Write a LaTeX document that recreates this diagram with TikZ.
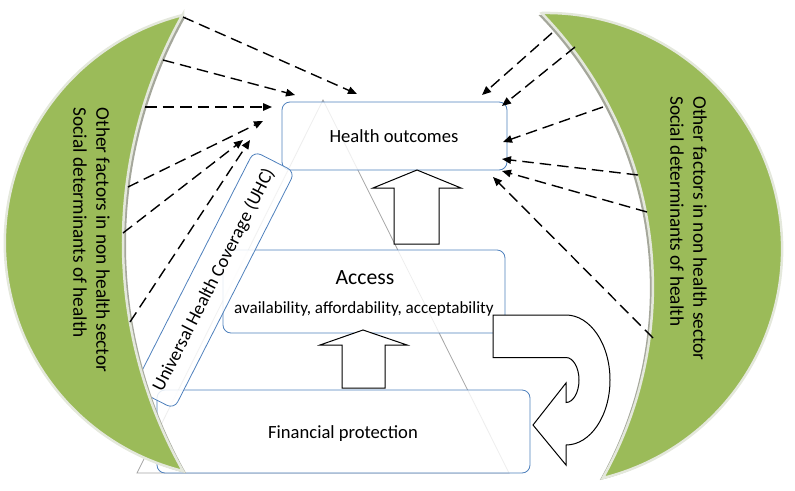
\documentclass[tikz,border=0pt]{standalone}
\usepackage{fontspec}
\setmainfont{Carlito}
\usetikzlibrary{arrows.meta}
\definecolor{leaf}{RGB}{155,187,89}
\definecolor{boxblue}{RGB}{79,129,189}
\definecolor{rimcol}{RGB}{228,232,220}
\definecolor{shadecol}{RGB}{165,167,155}
\definecolor{trigray}{RGB}{165,165,165}
\begin{document}
\begin{tikzpicture}[x=1pt,y=1pt,
  box/.style={draw=boxblue, line width=0.8pt, rounded corners=8pt, fill=white, fill opacity=0.82, text opacity=1, inner sep=0pt},
  lab/.style={font=\fontsize{18.6}{22}\selectfont, inner sep=0pt},
  dasharrow/.style={dash pattern=on 11.5pt off 6pt, line width=1.4pt, -{Triangle[length=9pt,width=7.5pt]}},
  blockarr/.style={draw=black, line width=1pt, fill=white},
  cres/.style={fill=leaf, draw=rimcol, line width=2.5pt},
  cresshadow/.style={fill=shadecol},
  crestext/.style={font=\fontsize{19.3}{23}\selectfont, rotate=-90, align=left, inner sep=0pt}
]
\useasboundingbox (0,0) rectangle (795,-490);
\def\leftcres{(183,-15) arc[start angle=104, end angle=256, radius=235] arc[start angle=209.43, end angle=150.57, radius=465.1] -- cycle}
\def\rightcres{(542,-13) arc[start angle=91, end angle=-76.1, radius=236] arc[start angle=-29.3, end angle=44.3, radius=391.4] -- cycle}

% pyramid triangle
\draw[trigray, line width=0.8pt] (323,-100) -- (509,-473) -- (137,-473) -- cycle;

% boxes
\node[box, minimum width=225pt, minimum height=68pt] (health) at (394.5,-136) {};
\node[box, minimum width=282pt, minimum height=83pt] (access) at (364,-291.5) {};
\node[box, minimum width=373pt, minimum height=83pt] (finance) at (343.5,-431.5) {};
\node[lab, anchor=base] (healthtxt) at (394,-142) {Health outcomes};
\node[inner sep=0pt, anchor=base, font=\fontsize{21.7}{25}\selectfont] (accesstxt) at (365,-284) {Access};
\node[inner sep=0pt, anchor=base, font=\fontsize{17.1}{20}\selectfont] (accesslist) at (364,-313) {availability, affordability, acceptability};
\node[lab, anchor=base] (financetxt) at (343,-438) {Financial protection};

% UHC box
\node[box, rotate=63, minimum width=266pt, minimum height=46pt, fill opacity=0.85, font=\fontsize{18.6}{22}\selectfont] (uhc) at (214,-280) {Universal Health Coverage (UHC)};

% block arrows
\draw[blockarr] (394,-244) -- (394,-188) -- (373,-188) -- (417,-170) -- (461,-188) -- (439,-188) -- (439,-244) -- cycle;
\draw[blockarr] (342,-388) -- (342,-345) -- (320,-345) -- (363,-330) -- (407,-345) -- (385,-345) -- (385,-388) -- cycle;

% curved arrow
\draw[blockarr] (493,-315) -- (566,-315) arc[start angle=90, end angle=-90, x radius=44, y radius=65]
  -- (566,-465) -- (533,-425) -- (566,-383) -- (566,-402.5)
  arc[start angle=-90, end angle=90, x radius=13, y radius=22.5] -- (493,-357.5) -- cycle;

% crescents
\begin{scope}[shift={(3,-2)}]
  \fill[cresshadow] \leftcres;
\end{scope}
\begin{scope}[shift={(-3,-2)}]
  \fill[cresshadow] \rightcres;
\end{scope}
\path[cres] \leftcres;
\path[cres] \rightcres;
\node[crestext] (lefttxt) at (91.5,-240) {Other factors in non health sector\\Social determinants of health};
\node[crestext] (righttxt) at (688.5,-228.5) {Other factors in non health sector\\Social determinants of health};

% dashed arrow endpoints
\coordinate (la1) at (183,-17);  \coordinate (lb1) at (357,-94);
\coordinate (la2) at (163,-60);  \coordinate (lb2) at (295,-95);
\coordinate (la3) at (145,-107); \coordinate (lb3) at (272,-107);
\coordinate (la4) at (128,-187); \coordinate (lb4) at (263,-121);
\coordinate (la5) at (123,-233); \coordinate (lb5) at (243,-140);
\coordinate (la6) at (130,-322); \coordinate (lb6) at (250,-140);
\coordinate (ra1) at (552,-33);  \coordinate (rb1) at (482,-95);
\coordinate (ra2) at (575,-47);  \coordinate (rb2) at (502,-106);
\coordinate (ra3) at (603,-107); \coordinate (rb3) at (503,-142);
\coordinate (ra4) at (638,-175); \coordinate (rb4) at (502,-159);
\coordinate (ra5) at (647,-212); \coordinate (rb5) at (502,-171);
\coordinate (ra6) at (653,-338); \coordinate (rb6) at (493,-177);
\foreach \i in {1,...,6}{
  \draw[dasharrow] (la\i) -- (lb\i);
  \draw[dasharrow] (ra\i) -- (rb\i);
}
\end{tikzpicture}
\end{document}
